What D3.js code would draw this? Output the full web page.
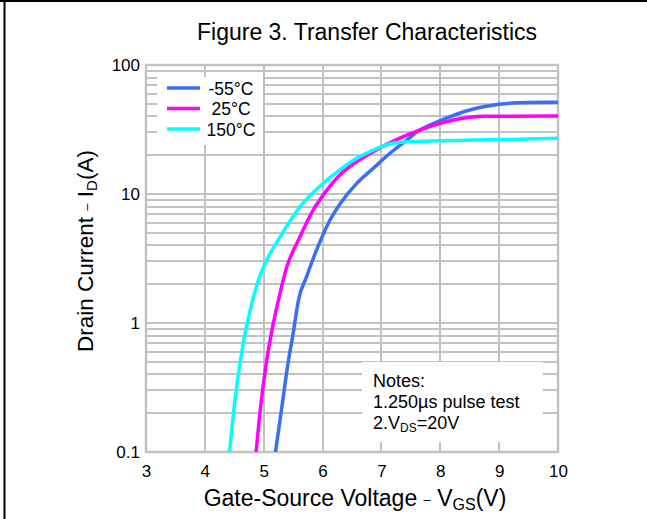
<!DOCTYPE html>
<html><head><meta charset="utf-8">
<script src="https://cdn.jsdelivr.net/npm/d3@7"></script>
<style>
html,body{margin:0;padding:0;background:#fff;}
text{font-family:"Liberation Sans",Arial,sans-serif;fill:#000;}
</style></head>
<body>
<svg id="chart" width="647" height="519"></svg>
<script>
// ---- data ----
const seriesNames = ["-55°C", "25°C", "150°C"];
const seriesColors = ["#3b6ef5", "#ff00ff", "#00ffff"];
const vgsM55 = [5.2, 5.3, 5.42, 5.5, 5.59, 5.73, 5.9, 6.12, 6.29, 6.58, 6.86, 7.14, 7.43, 7.65, 8.0, 8.5, 9.0, 9.5, 10];
const idM55  = [0.1, 0.21, 0.51, 0.83, 1.5, 2.3, 3.7, 6.2, 8.3, 12.1, 15.8, 20.6, 26.2, 31.3, 37, 44.8, 49.6, 51.3, 51.5];
const vgs25  = [4.87, 4.94, 5.05, 5.13, 5.25, 5.39, 5.59, 5.84, 6.01, 6.29, 6.58, 6.86, 7.14, 7.43, 7.65, 8.0, 8.5, 8.75, 10];
const id25   = [0.1, 0.21, 0.51, 0.83, 1.5, 2.7, 4.4, 7.5, 9.8, 14, 17.8, 21.3, 24.9, 28.6, 31.3, 35.3, 39.3, 40, 40.2];
const vgs150 = [4.42, 4.51, 4.65, 4.77, 4.91, 5.05, 5.28, 5.45, 5.61, 6.01, 6.29, 6.58, 6.86, 7.14, 7.43, 8.0, 9.0, 10];
const id150  = [0.1, 0.25, 0.69, 1.26, 2.15, 3.07, 4.65, 6.2, 7.9, 12.1, 15.3, 18.9, 21.9, 24.4, 25.4, 25.9, 26.4, 27];
const xTicks = [3, 4, 5, 6, 7, 8, 9, 10];
const yTicks = [0.1, 1, 10, 100];
const yTickLabels = ["0.1", "1", "10", "100"];
const notes = ["Notes:", "1.250µs pulse test"];

// ---- layout ----
const svg = d3.select("#chart");
const L = 146, R = 558, T = 65, B = 452;
const x = d3.scaleLinear().domain([3, 10]).range([L, R]);
const y = d3.scaleLog().domain([0.1, 100]).range([B, T]);
const grid = "#c2c2c2";

// outer frame (top and left)
svg.append("line").attr("x1", 0).attr("x2", 647).attr("y1", 1).attr("y2", 1).attr("stroke", "#000").attr("stroke-width", 2);
svg.append("line").attr("x1", 4.5).attr("x2", 4.5).attr("y1", 0).attr("y2", 519).attr("stroke", "#000").attr("stroke-width", 2);

// title
svg.append("text").attr("x", 367).attr("y", 40).attr("text-anchor", "middle")
  .style("font-size", "23px").text("Figure 3. Transfer Characteristics");

// grid
const minor = [];
[0.1, 1, 10].forEach(d => { for (let k = 1; k <= 10; k++) minor.push(+(d * k).toPrecision(3)); });
const gG = svg.append("g");
gG.selectAll("line.h").data(minor).join("line")
  .attr("x1", L).attr("x2", R).attr("y1", d => Math.round(y(d))).attr("y2", d => Math.round(y(d)))
  .attr("stroke", grid).attr("stroke-width", 2);
gG.selectAll("line.v").data(xTicks).join("line")
  .attr("x1", d => Math.round(x(d))).attr("x2", d => Math.round(x(d))).attr("y1", T).attr("y2", B)
  .attr("stroke", grid).attr("stroke-width", 2);
svg.append("rect").attr("x", L).attr("y", T).attr("width", R - L).attr("height", B - T)
  .attr("fill", "none").attr("stroke", grid).attr("stroke-width", 2.5);

// axes tick labels via d3 axes
const xAxis = svg.append("g").attr("transform", `translate(0,${B})`)
  .call(d3.axisBottom(x).tickValues(xTicks).tickSize(0).tickPadding(13).tickFormat(d3.format("d")));
xAxis.select(".domain").remove();
xAxis.selectAll("text").style("font-size", "17px").style("font-family", "Liberation Sans, Arial, sans-serif").attr("fill", "#000");
const yAxis = svg.append("g").attr("transform", `translate(${L - 4},0)`)
  .call(d3.axisLeft(y).tickValues(yTicks).tickSize(0).tickPadding(2).tickFormat((d, i) => yTickLabels[i]));
yAxis.select(".domain").remove();
yAxis.selectAll("text").style("font-size", "17px").style("font-family", "Liberation Sans, Arial, sans-serif").attr("fill", "#000");

// axis titles
const xt = svg.append("text").attr("x", 355).attr("y", 506).attr("text-anchor", "middle").style("font-size", "23px");
xt.append("tspan").text("Gate-Source Voltage  ");
xt.append("tspan").style("font-size", "13px").attr("dy", -2).text("\u2013");
xt.append("tspan").attr("dy", 2).text("  V");
xt.append("tspan").style("font-size", "16px").attr("dy", 4).text("GS");
xt.append("tspan").attr("dy", -4).text("(V)");

const yt = svg.append("text").attr("transform", "translate(93,251) rotate(-90)").attr("text-anchor", "middle").style("font-size", "22.5px");
yt.append("tspan").text("Drain Current  ");
yt.append("tspan").style("font-size", "13px").attr("dy", -2).text("\u2013");
yt.append("tspan").attr("dy", 2).text("  I");
yt.append("tspan").style("font-size", "15px").attr("dy", 4).text("D");
yt.append("tspan").attr("dy", -4).text("(A)");

// legend box (white, covering grid)
svg.append("rect").attr("x", 157).attr("y", 77).attr("width", 106).attr("height", 68).attr("fill", "#fff");
// notes box
svg.append("rect").attr("x", 362).attr("y", 362).attr("width", 181).attr("height", 80).attr("fill", "#fff");

// curves
svg.append("clipPath").attr("id", "clip").append("rect").attr("x", L).attr("y", T).attr("width", R - L).attr("height", B - T);
const series = [
  vgsM55.map((v, i) => [v, idM55[i]]),
  vgs25.map((v, i) => [v, id25[i]]),
  vgs150.map((v, i) => [v, id150[i]])
];
const line = d3.line().x(d => x(d[0])).y(d => y(d[1])).curve(d3.curveMonotoneX);
svg.append("g").attr("clip-path", "url(#clip)").selectAll("path").data(series).join("path")
  .attr("d", line).attr("fill", "none").attr("stroke", (d, i) => seriesColors[i]).attr("stroke-width", 3.5);

// legend
const lg = svg.append("g");
seriesNames.forEach((n, i) => {
  const yy = 88 + i * 20.5;
  lg.append("line").attr("x1", 167).attr("x2", 200).attr("y1", yy).attr("y2", yy)
    .attr("stroke", seriesColors[i]).attr("stroke-width", 3.5);
  lg.append("text").attr("x", 231).attr("y", yy + 6.5).attr("text-anchor", "middle").style("font-size", "17.5px").text(n);
});

// notes
notes.forEach((t, i) => {
  svg.append("text").attr("x", 373).attr("y", 387 + i * 21).style("font-size", "18px").text(t);
});
const n3 = svg.append("text").attr("x", 373).attr("y", 429).style("font-size", "18px");
n3.append("tspan").text("2.V");
n3.append("tspan").style("font-size", "12px").attr("dy", 3).text("DS");
n3.append("tspan").attr("dy", -3).text("=20V");
</script>
</body></html>
